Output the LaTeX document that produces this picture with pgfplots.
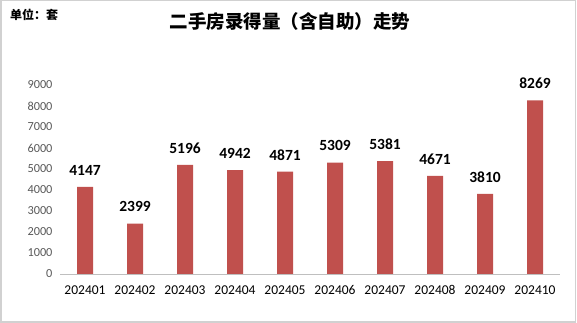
\documentclass[border=0pt]{standalone}
\usepackage{pgfplots}
\pgfplotsset{compat=1.18}
\usepackage{fontspec}
\setmainfont{Carlito}
\newfontfamily\cjk{Noto Sans CJK SC}
\definecolor{barred}{HTML}{C0504D}
\definecolor{ticgray}{HTML}{595959}
\begin{document}
\begin{tikzpicture}
\useasboundingbox (0pt,0pt) rectangle (577pt,323pt);
\fill[white] (0pt,0pt) rectangle (577pt,323pt);
\draw[black!18, line width=1.5pt] (0.75pt,0.75pt) rectangle (575.5pt,322.25pt);
\node[font=\cjk\bfseries\fontsize{18.5}{22}\selectfont] at (290pt,301pt) {二手房录得量（含自助）走势};
\node[font=\cjk\bfseries\fontsize{12}{14}\selectfont] at (34pt,308pt) {单位：套};
\begin{axis}[
  at={(60pt,49pt)}, anchor=south west,
  width=500pt, height=189pt, scale only axis,
  ybar, bar width=16pt,
  xmin=-0.5, xmax=9.5, ymin=0, ymax=9000,
  xtick=data,
  xticklabels={202401,202402,202403,202404,202405,202406,202407,202408,202409,202410},
  ytick={0,1000,...,9000},
  /pgf/number format/assume math mode=true,
  /pgf/number format/1000 sep={},
  axis x line*=bottom, axis y line*=left,
  x axis line style={draw=black!25, line width=0.8pt, -},
  y axis line style={draw=none},
  major tick length=0pt,
  yticklabel style={font=\fontsize{12.3}{14}\selectfont, text=ticgray, xshift=-4pt},
  xticklabel style={font=\fontsize{13.5}{15}\selectfont, text=black, yshift=-8pt},
  nodes near coords,
  every node near coord/.append style={font=\bfseries\fontsize{15.5}{17}\selectfont, text=black, yshift=8pt},
  clip=false,
]
\addplot[fill=barred, draw=none] coordinates {(0,4147) (1,2399) (2,5196) (3,4942) (4,4871) (5,5309) (6,5381) (7,4671) (8,3810) (9,8269)};
\end{axis}
\end{tikzpicture}
\end{document}
